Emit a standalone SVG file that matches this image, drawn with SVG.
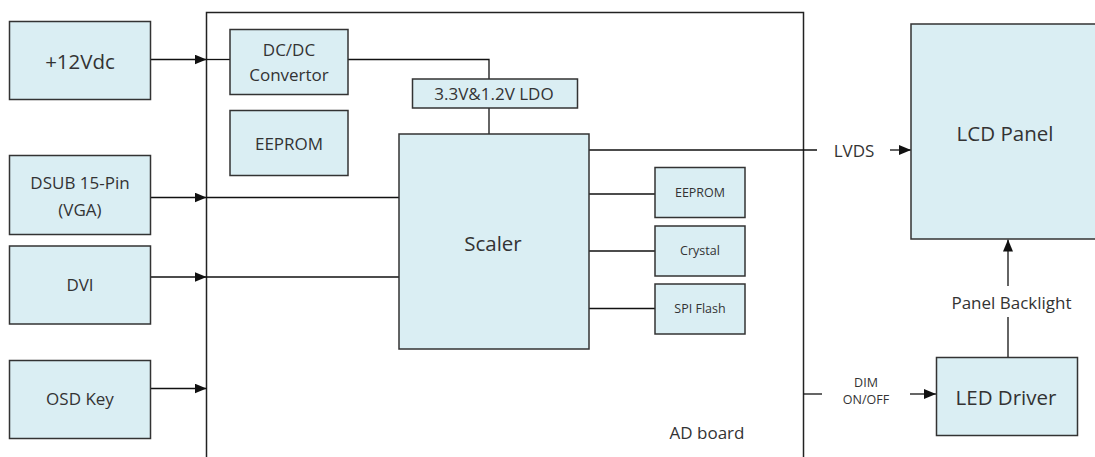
<svg xmlns="http://www.w3.org/2000/svg" width="1095" height="457" viewBox="0 0 1095 457">
<style>
.box{fill:#DAEEF3;stroke:#333;stroke-width:1.5}
.board{fill:#fff;stroke:#222;stroke-width:1.5}
.ln{fill:none;stroke:#111;stroke-width:1.3}
text{font-family:"Open Sans","Noto Sans","Liberation Sans",sans-serif;fill:#333;text-anchor:middle;dominant-baseline:central}
.t17{font-size:17px}
.t20{font-size:20.5px}
.t13{font-size:12.5px}
</style>
<defs>
<marker id="arr" viewBox="0 0 12 10" refX="12" refY="5" markerWidth="12" markerHeight="10" markerUnits="userSpaceOnUse" orient="auto">
<path d="M0,0 L12,5 L0,10 Z" fill="#111"/>
</marker>
</defs>
<rect width="1095" height="457" fill="#fff"/>
<g id="ad-board">
<rect class="board" x="206.5" y="12.5" width="597" height="460"/>
<text class="t17" x="707" y="432">AD board</text>
</g>
<g id="connectors">
<line class="ln" x1="151" y1="59.5" x2="206.5" y2="59.5" marker-end="url(#arr)"/>
<line class="ln" x1="206.5" y1="59.5" x2="230" y2="59.5"/>
<polyline class="ln" points="348,59.5 489,59.5 489,79"/>
<line class="ln" x1="489" y1="108" x2="489" y2="134"/>
<line class="ln" x1="151" y1="197.5" x2="206.5" y2="197.5" marker-end="url(#arr)"/>
<line class="ln" x1="206.5" y1="197.5" x2="399" y2="197.5"/>
<line class="ln" x1="151" y1="277" x2="206.5" y2="277" marker-end="url(#arr)"/>
<line class="ln" x1="206.5" y1="277" x2="399" y2="277"/>
<line class="ln" x1="151" y1="388.5" x2="206.5" y2="388.5" marker-end="url(#arr)"/>
<line class="ln" x1="589" y1="194" x2="655" y2="194"/>
<line class="ln" x1="589" y1="251" x2="655" y2="251"/>
<line class="ln" x1="589" y1="308.5" x2="655" y2="308.5"/>
<line class="ln" x1="589" y1="150" x2="817" y2="150"/>
<line class="ln" x1="890" y1="150" x2="911" y2="150" marker-end="url(#arr)"/>
<text class="t17" x="854" y="150">LVDS</text>
<line class="ln" x1="803.5" y1="394" x2="822" y2="394"/>
<line class="ln" x1="910" y1="394" x2="936" y2="394" marker-end="url(#arr)"/>
<text class="t13" x="866" y="382">DIM</text>
<text class="t13" x="866" y="399.5">ON/OFF</text>
<line class="ln" x1="1008" y1="357" x2="1008" y2="317"/>
<line class="ln" x1="1008" y1="286" x2="1008" y2="239.5" marker-end="url(#arr)"/>
<text class="t17" x="1011.5" y="302.5">Panel Backlight</text>
</g>
<g id="n-12vdc"><rect class="box" x="9.5" y="21.5" width="141" height="78"/><text class="t20" x="80" y="61">+12Vdc</text></g>
<g id="n-dsub"><rect class="box" x="9.5" y="155.5" width="141" height="79"/><text class="t17" x="80" y="182.5">DSUB 15-Pin</text><text class="t17" x="80" y="209">(VGA)</text></g>
<g id="n-dvi"><rect class="box" x="9.5" y="246" width="141" height="78"/><text class="t17" x="80" y="284">DVI</text></g>
<g id="n-osd"><rect class="box" x="9.5" y="360.5" width="141" height="78"/><text class="t17" x="80" y="398">OSD Key</text></g>
<g id="n-dcdc"><rect class="box" x="230" y="29.5" width="118" height="65"/><text class="t17" x="289" y="49.5">DC/DC</text><text class="t17" x="289" y="74.5">Convertor</text></g>
<g id="n-eeprom1"><rect class="box" x="230" y="110.5" width="118" height="65"/><text class="t17" x="289" y="143">EEPROM</text></g>
<g id="n-ldo"><rect class="box" x="412.5" y="79" width="165" height="29"/><text class="t17" x="494" y="93">3.3V&amp;1.2V LDO</text></g>
<g id="n-scaler"><rect class="box" x="399" y="134" width="190" height="215"/><text class="t20" x="493" y="242.5">Scaler</text></g>
<g id="n-eeprom2"><rect class="box" x="655" y="167.5" width="90" height="50"/><text class="t13" x="700" y="192">EEPROM</text></g>
<g id="n-crystal"><rect class="box" x="655" y="226" width="90" height="50"/><text class="t13" x="700" y="250.5">Crystal</text></g>
<g id="n-spi"><rect class="box" x="655" y="284" width="90" height="50"/><text class="t13" x="700" y="308">SPI Flash</text></g>
<g id="n-lcd"><rect class="box" x="911" y="24" width="190" height="215"/><text class="t20" x="1005" y="133">LCD Panel</text></g>
<g id="n-led"><rect class="box" x="936.5" y="357.5" width="141" height="78"/><text class="t20" x="1006" y="397">LED Driver</text></g>
</svg>
